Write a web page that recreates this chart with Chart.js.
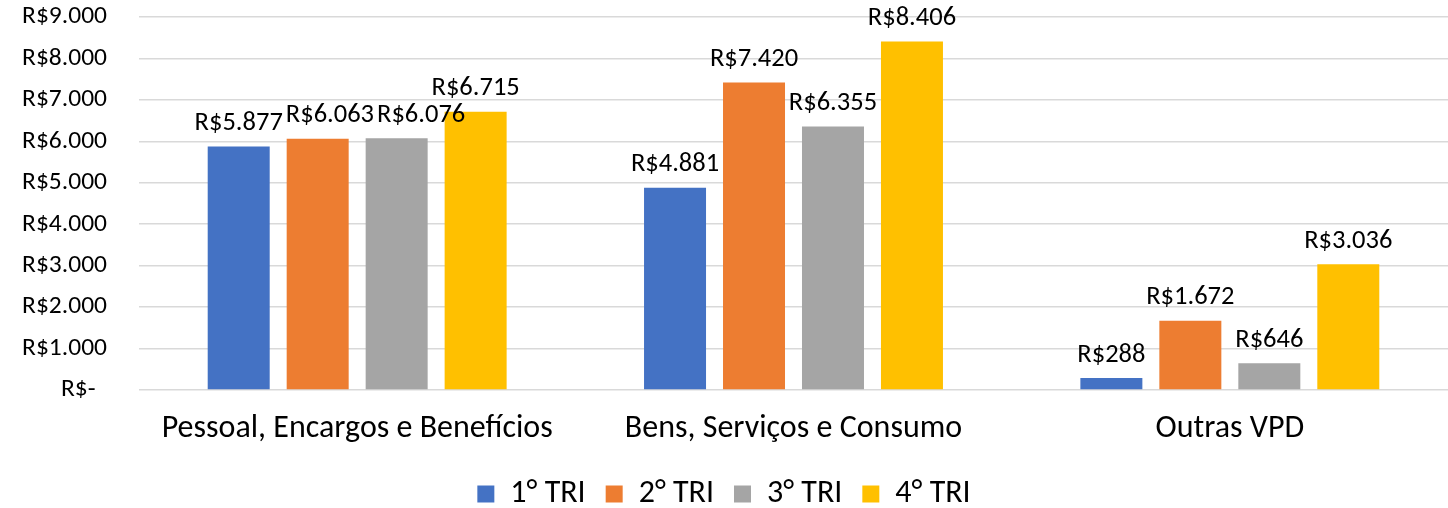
<!DOCTYPE html>
<html lang="pt-BR">
<head>
<meta charset="utf-8">
<title>VPD por trimestre</title>
<script src="https://cdn.jsdelivr.net/npm/chart.js@4.4.1/dist/chart.umd.min.js"></script>
<style>
  html, body { margin: 0; padding: 0; background: #fff; }
  #box { width: 1448px; height: 508px; position: relative; }
</style>
</head>
<body>
<div id="box"><canvas id="grafico"></canvas></div>
<script>
// categorias e valores (R$)
const categorias = ["Pessoal, Encargos e Benefícios", "Bens, Serviços e Consumo", "Outras VPD"];
const tri1 = [5877, 4881, 288];
const tri2 = [6063, 7420, 1672];
const tri3 = [6076, 6355, 646];
const tri4 = [6715, 8406, 3036];
const nomesSeries = ["1° TRI", "2° TRI", "3° TRI", "4° TRI"];
const cores = ["#4472C4", "#ED7D31", "#A5A5A5", "#FFC000"];
const eixoMax = 9000;
const eixoPasso = 1000;

const fonte = "Carlito, Lato, sans-serif";

// formato brasileiro: R$5.877
function formatReal(v) {
    return "R$" + String(v).replace(/\B(?=(\d{3})+(?!\d))/g, ".");
}

// rótulos de dados acima das barras, empurrados para a direita se encostarem
const etiquetas = {
    id: "etiquetas",
    afterDatasetsDraw(chart) {
        const ctx = chart.ctx;
        ctx.save();
        ctx.font = "26.5px " + fonte;
        ctx.fillStyle = "#000";
        ctx.textAlign = "center";
        ctx.textBaseline = "middle";
        chart.data.labels.forEach((_, i) => {
            let anterior = null;
            chart.data.datasets.forEach((ds, d) => {
                const barra = chart.getDatasetMeta(d).data[i];
                const texto = formatReal(ds.data[i]);
                const w = ctx.measureText(texto).width;
                let x = barra.x;
                const y = barra.y - 23;
                if (anterior && x - w / 2 < anterior.dir + 3 && Math.abs(y - anterior.y) < 26) {
                    x = anterior.dir + 3 + w / 2;
                }
                ctx.fillText(texto, x, y);
                anterior = { dir: x + w / 2, y: y };
            });
        });
        ctx.restore();
    }
};

const series = [tri1, tri2, tri3, tri4];

new Chart(document.getElementById("grafico"), {
    type: "bar",
    data: {
        labels: categorias,
        datasets: series.map((valores, k) => ({
            label: nomesSeries[k],
            data: valores,
            backgroundColor: cores[k],
            borderWidth: 0,
            categoryPercentage: 0.724,
            barPercentage: 0.785
        }))
    },
    options: {
        responsive: true,
        maintainAspectRatio: false,
        animation: false,
        layout: { padding: { top: 17, right: 0, bottom: -12, left: 0 } },
        plugins: {
            tooltip: { enabled: false },
            legend: {
                position: "bottom",
                labels: {
                    color: "#000",
                    font: { family: fonte, size: 32 },
                    boxWidth: 17,
                    boxHeight: 17,
                    padding: 20
                }
            }
        },
        scales: {
            x: {
                grid: { display: false, drawTicks: false },
                border: { display: false },
                ticks: {
                    color: "#000",
                    font: { family: fonte, size: 32 },
                    padding: 20,
                    maxRotation: 0
                },
                afterFit(scale) { scale.height = 68; }
            },
            y: {
                min: 0,
                max: eixoMax,
                grid: { color: "#D9D9D9", lineWidth: 1.5, drawTicks: false },
                border: { display: false },
                ticks: {
                    stepSize: eixoPasso,
                    color: "#000",
                    font: { family: fonte, size: 25.5 },
                    padding: 32,
                    callback: v => v === 0 ? "R$-\u00A0\u00A0" : formatReal(v)
                },
                afterFit(scale) {
                    scale.width = 139;
                    scale.paddingTop = 0;
                    scale.paddingBottom = 0;
                }
            }
        }
    },
    plugins: [etiquetas]
});
</script>
</body>
</html>
